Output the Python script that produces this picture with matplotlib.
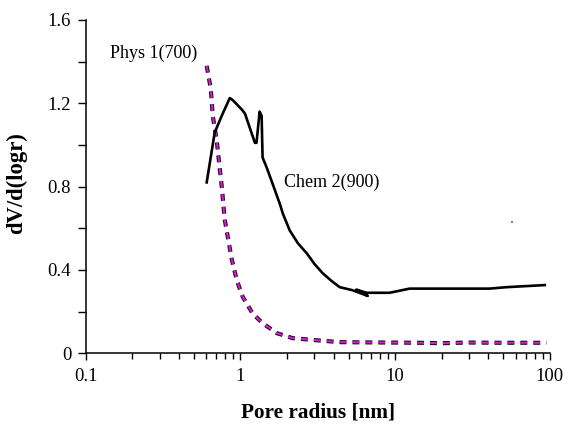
#!/usr/bin/env python3

import matplotlib.pyplot as plt
from matplotlib.ticker import FixedLocator, FuncFormatter, LogLocator, NullFormatter

plt.rcParams["font.family"] = ["Liberation Serif", "DejaVu Serif"]
plt.rcParams["lines.scale_dashes"] = False

# Phys 1(700): pore size distribution, dashed curve
phys_r = [0.605, 0.643, 0.662, 0.703, 0.724, 0.757, 0.792, 0.879, 0.947, 1.035,
          1.20, 1.39, 1.72, 2.18, 3.11, 4.38, 6.0, 9.0, 14.0, 20.0, 30.0, 45.0, 65.0, 95.0]
phys_v = [1.38, 1.27, 1.14, 1.02, 0.93, 0.80, 0.64, 0.45, 0.35, 0.27,
          0.19, 0.144, 0.096, 0.072, 0.062, 0.053, 0.052, 0.051, 0.050, 0.048, 0.051, 0.050, 0.050, 0.050]

# stray marker of the Phys series
stray_r = [56.8]
stray_v = [0.63]

# Chem 2(900): pore size distribution, solid curve
chem_r = [0.605, 0.682, 0.757, 0.853, 0.892, 1.02, 1.07, 1.24, 1.27, 1.33, 1.37,
          1.39, 1.48, 1.62, 1.80, 1.88, 2.08, 2.35, 2.68, 3.02, 3.40, 3.89, 4.38, 5.32, 6.65,
          5.6, 6.55, 9.2, 12.4, 40.8, 52.6, 92.7]
chem_v = [0.82, 1.06, 1.14, 1.225, 1.215, 1.17, 1.15, 1.01, 1.01, 1.16, 1.14,
          0.94, 0.89, 0.81, 0.715, 0.67, 0.59, 0.528, 0.48, 0.427, 0.384, 0.346, 0.317, 0.302, 0.275,
          0.305, 0.29, 0.29, 0.31, 0.31, 0.317, 0.327]


def main() -> None:
    fig = plt.figure(figsize=(5.64, 4.25), dpi=100)
    ax = fig.add_axes([0.152, 0.169, 0.823, 0.784])

    # dashed curve: dark outline underneath, magenta on top
    ax.plot(phys_r, phys_v, color="#2a0a2a", lw=3.0, dashes=(5.0, 4.3),
            dash_capstyle="butt")
    ax.plot(phys_r, phys_v, color="#d020d0", lw=1.4, dashes=(5.0, 4.3),
            dash_capstyle="butt")
    ax.plot(stray_r, stray_v, "s", color="#e040e0", ms=1.8, mew=0)

    ax.plot(chem_r, chem_v, color="black", lw=1.9, solid_joinstyle="round")

    ax.text(0.143, 1.44, "Phys 1(700)", fontsize=13, ha="left", va="center")
    ax.text(1.9, 0.82, "Chem 2(900)", fontsize=13, ha="left", va="center")

    ax.set_xscale("log")
    ax.set_xlim(0.1, 100)
    ax.set_ylim(0, 1.6)

    ax.yaxis.set_major_locator(FixedLocator([0, 0.2, 0.4, 0.6, 0.8, 1.0, 1.2, 1.4, 1.6]))
    ax.yaxis.set_major_formatter(
        FuncFormatter(lambda v, _: ("0" if v == 0 else f"{v:.1f}") if round(v / 0.4, 6).is_integer() else "")
    )
    ax.xaxis.set_major_locator(FixedLocator([0.1, 1, 10, 100]))
    ax.xaxis.set_major_formatter(FuncFormatter(lambda v, _: f"{v:g}"))
    ax.xaxis.set_minor_locator(LogLocator(base=10, subs=range(2, 10)))
    ax.xaxis.set_minor_formatter(NullFormatter())

    ax.tick_params(axis="both", which="major", direction="out", length=5, width=1,
                   labelsize=13.5, color="black")
    ax.tick_params(axis="y", which="major", length=6, pad=4.5)
    ax.tick_params(axis="x", which="minor", direction="out", length=4, width=1)
    ax.tick_params(axis="x", which="major", pad=6)

    for side in ("top", "right"):
        ax.spines[side].set_visible(False)
    for side in ("left", "bottom"):
        ax.spines[side].set_linewidth(1.1)

    ax.set_xlabel("Pore radius [nm]", fontsize=15.3, fontweight="bold", va="center")
    ax.xaxis.set_label_coords(0.5, -0.177)
    ax.set_ylabel("dV/d(logr)", fontsize=16.3, fontweight="bold", va="center")
    ax.yaxis.set_label_coords(-0.149, 0.51)

    fig.savefig("out.png", dpi=100)
    plt.close(fig)


if __name__ == "__main__":
    main()
